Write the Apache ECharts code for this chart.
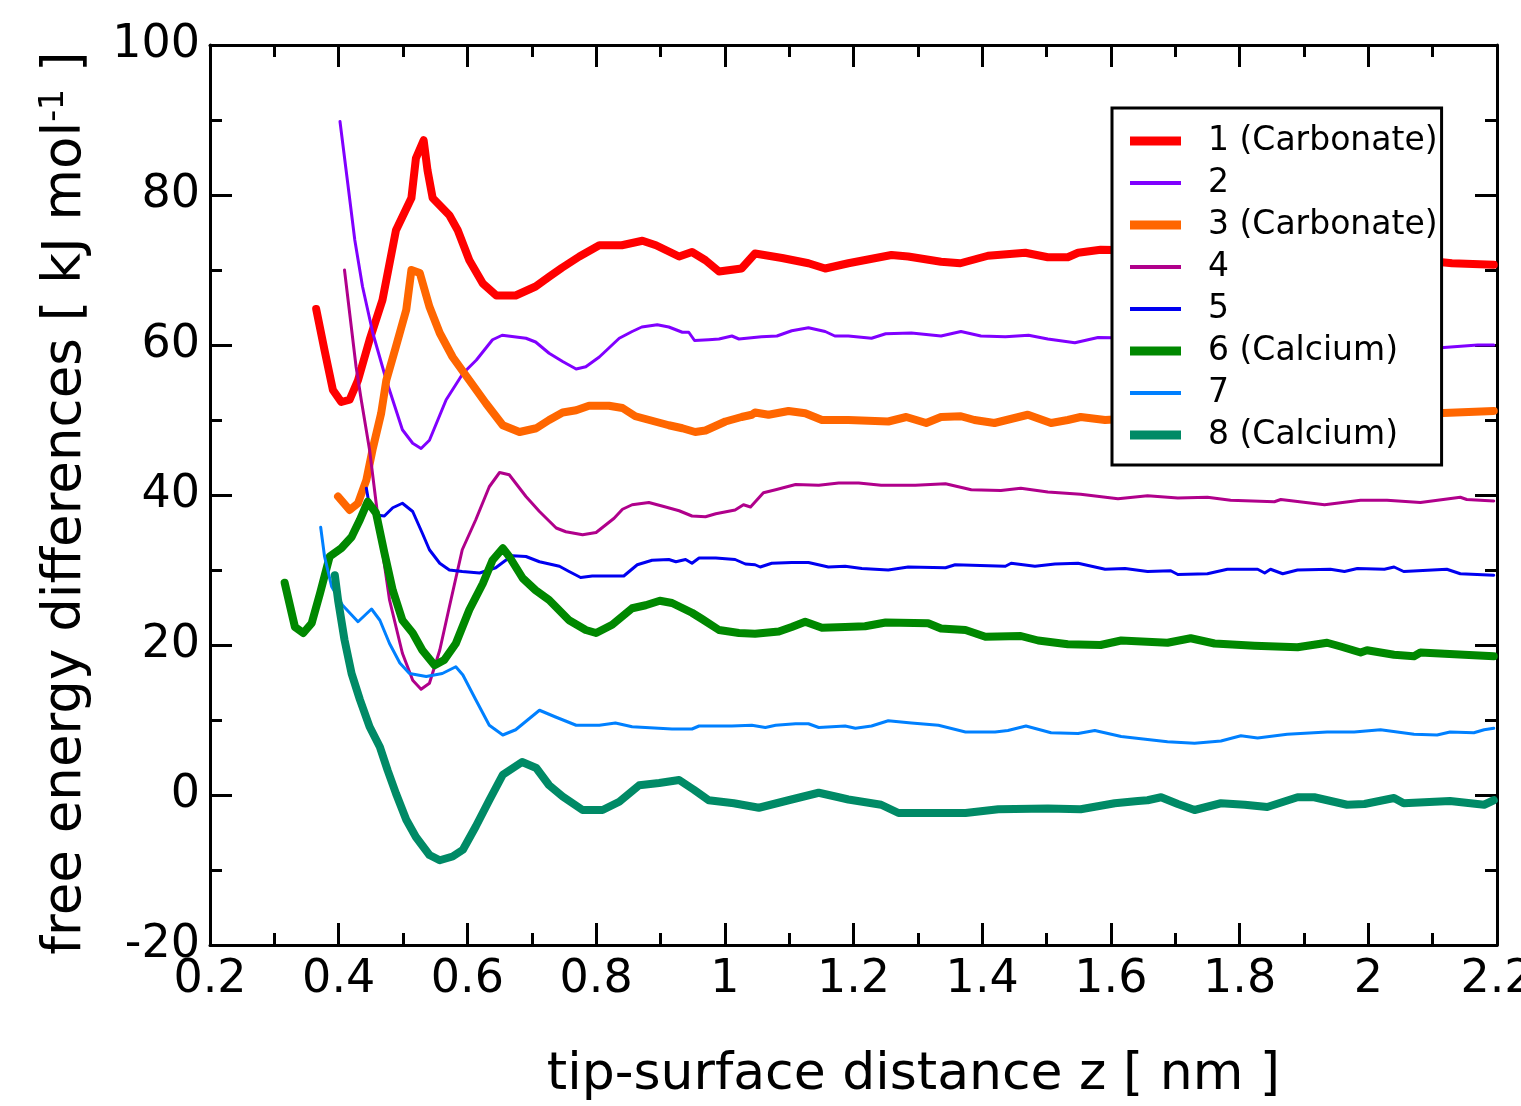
<!DOCTYPE html>
<html>
<head>
<meta charset="utf-8">
<script src="https://cdn.jsdelivr.net/npm/echarts@6/dist/echarts.min.js"></script>
<style>
  html, body { margin: 0; padding: 0; background: #fff; }
  #chart { width: 1521px; height: 1106px; }
</style>
</head>
<body>
<div id="chart"></div>
<script>
// free energy curves, [z (nm), dF (kJ/mol)]
const names = ['1 (Carbonate)', '2', '3 (Carbonate)', '4', '5', '6 (Calcium)', '7', '8 (Calcium)']
const colors = ['#ff0000', '#8000ff', '#ff6600', '#b0008b', '#0000f0', '#008800', '#0080ff', '#008a66']
const widths = [8, 3, 8, 3, 3, 8, 3, 8]

const s1 = [[0.365,64.8],[0.378,59.3],[0.391,54.0],[0.404,52.4],[0.417,52.7],[0.430,55.3],[0.448,60.7],[0.468,66.0],[0.489,75.3],[0.513,79.6],[0.520,84.9],[0.532,87.3],[0.538,83.3],[0.546,79.6],[0.572,77.3],[0.585,75.3],[0.603,71.3],[0.624,68.2],[0.645,66.6],[0.675,66.6],[0.706,67.8],[0.727,69.1],[0.747,70.3],[0.774,71.8],[0.805,73.3],[0.840,73.3],[0.872,73.9],[0.893,73.3],[0.929,71.8],[0.949,72.4],[0.970,71.3],[0.991,69.8],[1.026,70.2],[1.047,72.2],[1.089,71.6],[1.130,70.9],[1.156,70.2],[1.192,70.9],[1.259,72.0],[1.285,71.8],[1.336,71.1],[1.366,70.9],[1.409,71.9],[1.467,72.3],[1.502,71.7],[1.533,71.7],[1.549,72.3],[1.584,72.7],[1.650,72.6],[1.750,72.3],[1.850,72.0],[1.950,71.8],[2.050,71.5],[2.107,71.1],[2.130,70.9],[2.195,70.7]]

const s2 = [[0.402,89.8],[0.414,81.6],[0.425,74.0],[0.437,67.8],[0.453,61.6],[0.474,55.3],[0.499,48.7],[0.515,46.9],[0.528,46.2],[0.541,47.3],[0.567,52.7],[0.593,56.2],[0.614,58.0],[0.639,60.7],[0.654,61.3],[0.691,60.9],[0.706,60.4],[0.727,58.9],[0.748,57.8],[0.769,56.8],[0.784,57.1],[0.805,58.4],[0.836,60.9],[0.856,61.8],[0.871,62.4],[0.895,62.7],[0.913,62.4],[0.934,61.7],[0.944,61.7],[0.953,60.6],[0.975,60.7],[0.991,60.8],[1.011,61.2],[1.022,60.8],[1.057,61.1],[1.081,61.2],[1.104,61.9],[1.130,62.3],[1.156,61.8],[1.171,61.2],[1.192,61.2],[1.228,60.9],[1.250,61.5],[1.290,61.6],[1.336,61.2],[1.367,61.8],[1.398,61.2],[1.436,61.1],[1.472,61.3],[1.502,60.8],[1.544,60.3],[1.580,61.0],[1.650,60.9],[1.750,60.6],[1.850,60.5],[1.950,60.2],[2.050,60.0],[2.107,59.6],[2.170,60.0],[2.195,60.0]]

const s3 = [[0.399,39.8],[0.417,38.0],[0.430,38.9],[0.443,42.0],[0.453,46.2],[0.466,50.9],[0.474,55.3],[0.489,59.8],[0.505,64.7],[0.513,70.0],[0.526,69.6],[0.541,65.1],[0.557,61.6],[0.577,58.4],[0.603,55.3],[0.629,52.2],[0.655,49.3],[0.681,48.4],[0.707,48.9],[0.727,50.0],[0.748,51.0],[0.769,51.3],[0.789,51.9],[0.820,51.9],[0.841,51.6],[0.861,50.5],[0.887,49.9],[0.913,49.3],[0.934,48.9],[0.954,48.4],[0.970,48.6],[1.001,49.8],[1.026,50.4],[1.042,50.7],[1.047,51.0],[1.068,50.7],[1.099,51.2],[1.125,50.9],[1.151,50.0],[1.192,50.0],[1.254,49.8],[1.282,50.4],[1.313,49.6],[1.336,50.4],[1.367,50.5],[1.388,50.0],[1.419,49.6],[1.471,50.7],[1.507,49.6],[1.533,50.0],[1.553,50.4],[1.591,50.0],[1.650,50.3],[1.750,50.5],[1.850,50.6],[1.950,50.8],[2.050,50.9],[2.107,50.9],[2.195,51.2]]

const s4 = [[0.409,70.0],[0.427,57.1],[0.435,52.7],[0.448,46.0],[0.464,34.9],[0.479,26.0],[0.499,18.9],[0.515,15.3],[0.528,14.1],[0.541,14.9],[0.557,19.3],[0.572,25.1],[0.592,32.7],[0.613,36.7],[0.634,41.1],[0.650,43.0],[0.665,42.7],[0.691,39.8],[0.712,37.8],[0.738,35.6],[0.753,35.1],[0.779,34.7],[0.800,35.0],[0.828,36.9],[0.841,38.1],[0.856,38.7],[0.882,39.0],[0.908,38.4],[0.929,37.9],[0.949,37.2],[0.970,37.1],[0.986,37.5],[1.016,38.0],[1.029,38.7],[1.040,38.4],[1.060,40.3],[1.079,40.7],[1.110,41.4],[1.146,41.3],[1.177,41.6],[1.208,41.6],[1.243,41.3],[1.296,41.3],[1.343,41.5],[1.383,40.7],[1.429,40.6],[1.460,40.9],[1.502,40.4],[1.553,40.1],[1.611,39.5],[1.657,39.9],[1.704,39.6],[1.750,39.7],[1.786,39.3],[1.854,39.1],[1.864,39.4],[1.932,38.7],[1.988,39.3],[2.029,39.3],[2.081,39.0],[2.143,39.7],[2.153,39.4],[2.195,39.2]]

const s5 = [[0.443,40.9],[0.448,38.4],[0.461,37.3],[0.471,37.2],[0.484,38.3],[0.499,38.9],[0.515,37.8],[0.530,34.9],[0.541,32.7],[0.557,30.9],[0.572,30.0],[0.592,29.8],[0.619,29.6],[0.644,30.3],[0.658,31.2],[0.670,31.9],[0.691,31.8],[0.712,31.1],[0.743,30.5],[0.758,29.8],[0.776,29.0],[0.794,29.2],[0.843,29.2],[0.864,30.7],[0.887,31.3],[0.913,31.4],[0.924,31.1],[0.939,31.4],[0.949,30.9],[0.960,31.6],[0.986,31.6],[1.016,31.4],[1.032,30.8],[1.047,30.7],[1.055,30.4],[1.073,30.9],[1.104,31.0],[1.130,31.0],[1.161,30.4],[1.187,30.5],[1.213,30.2],[1.254,30.0],[1.285,30.4],[1.343,30.3],[1.358,30.7],[1.436,30.5],[1.445,30.9],[1.482,30.5],[1.513,30.8],[1.549,30.9],[1.591,30.1],[1.622,30.2],[1.657,29.8],[1.693,29.9],[1.704,29.4],[1.750,29.5],[1.781,30.1],[1.828,30.1],[1.839,29.6],[1.848,30.1],[1.867,29.5],[1.890,30.0],[1.941,30.1],[1.963,29.8],[1.983,30.2],[2.025,30.1],[2.040,30.4],[2.055,29.8],[2.122,30.1],[2.143,29.5],[2.195,29.3]]

const s6 = [[0.316,28.3],[0.332,22.4],[0.345,21.6],[0.358,22.9],[0.371,26.9],[0.386,31.8],[0.404,32.9],[0.420,34.4],[0.433,36.7],[0.445,39.1],[0.458,37.6],[0.471,32.3],[0.484,27.3],[0.499,23.3],[0.515,21.6],[0.530,19.3],[0.549,17.3],[0.564,18.0],[0.582,20.2],[0.603,24.7],[0.624,28.2],[0.639,31.3],[0.655,32.9],[0.665,31.8],[0.686,28.9],[0.706,27.3],[0.727,26.0],[0.758,23.3],[0.784,22.0],[0.800,21.6],[0.825,22.7],[0.856,24.9],[0.877,25.3],[0.899,25.9],[0.918,25.6],[0.949,24.3],[0.964,23.5],[0.991,22.0],[1.022,21.6],[1.047,21.5],[1.084,21.8],[1.104,22.4],[1.125,23.1],[1.151,22.3],[1.187,22.4],[1.218,22.5],[1.250,23.0],[1.316,22.9],[1.336,22.2],[1.374,22.0],[1.405,21.1],[1.460,21.2],[1.487,20.6],[1.533,20.1],[1.584,20.0],[1.616,20.6],[1.688,20.3],[1.724,20.9],[1.761,20.2],[1.823,19.9],[1.890,19.7],[1.936,20.3],[1.957,19.8],[1.988,19.0],[1.998,19.3],[2.040,18.7],[2.071,18.5],[2.081,19.0],[2.149,18.7],[2.195,18.5]]

const s7 = [[0.372,35.7],[0.378,31.8],[0.389,27.8],[0.406,25.3],[0.430,23.1],[0.451,24.8],[0.464,23.3],[0.479,20.2],[0.495,17.6],[0.510,16.2],[0.536,15.8],[0.561,16.2],[0.582,17.1],[0.593,16.0],[0.613,12.7],[0.634,9.3],[0.655,8.0],[0.675,8.7],[0.712,11.3],[0.737,10.4],[0.769,9.3],[0.805,9.3],[0.830,9.6],[0.856,9.1],[0.918,8.8],[0.949,8.8],[0.960,9.2],[1.011,9.2],[1.042,9.3],[1.063,9.0],[1.079,9.3],[1.110,9.5],[1.130,9.5],[1.146,9.0],[1.187,9.2],[1.203,8.9],[1.228,9.2],[1.254,9.9],[1.290,9.6],[1.332,9.3],[1.374,8.4],[1.420,8.4],[1.440,8.6],[1.468,9.2],[1.507,8.3],[1.549,8.2],[1.575,8.6],[1.616,7.8],[1.657,7.4],[1.688,7.1],[1.730,6.9],[1.771,7.2],[1.802,7.9],[1.828,7.6],[1.874,8.1],[1.936,8.4],[1.978,8.4],[2.019,8.7],[2.071,8.1],[2.107,8.0],[2.127,8.4],[2.164,8.3],[2.180,8.7],[2.195,8.9]]

const s8 = [[0.394,29.3],[0.399,26.0],[0.409,20.7],[0.420,16.2],[0.433,12.7],[0.448,9.1],[0.464,6.4],[0.476,3.3],[0.489,0.2],[0.505,-3.3],[0.520,-5.6],[0.541,-8.0],[0.557,-8.7],[0.577,-8.2],[0.593,-7.3],[0.613,-4.2],[0.634,-0.7],[0.655,2.7],[0.685,4.4],[0.707,3.6],[0.727,1.3],[0.748,-0.2],[0.779,-2.0],[0.810,-2.0],[0.836,-0.9],[0.867,1.3],[0.898,1.6],[0.929,2.0],[0.952,0.7],[0.975,-0.7],[1.014,-1.1],[1.053,-1.7],[1.099,-0.7],[1.146,0.3],[1.177,-0.3],[1.192,-0.6],[1.243,-1.3],[1.270,-2.4],[1.321,-2.4],[1.374,-2.4],[1.425,-1.9],[1.502,-1.8],[1.553,-1.9],[1.606,-1.1],[1.642,-0.8],[1.657,-0.7],[1.678,-0.3],[1.704,-1.2],[1.730,-2.0],[1.771,-1.1],[1.808,-1.3],[1.843,-1.6],[1.890,-0.3],[1.916,-0.3],[1.967,-1.3],[1.994,-1.2],[2.040,-0.4],[2.055,-1.1],[2.127,-0.8],[2.180,-1.3],[2.195,-0.7]]

const allData = [s1, s2, s3, s4, s5, s6, s7, s8]

const FONT = 'DejaVu Sans'

const axisCommon = {
    axisLine: { onZero: false, lineStyle: { color: '#000', width: 3 } },
    axisTick: { inside: true, length: 22, lineStyle: { color: '#000', width: 3 } },
    minorTick: { show: true, splitNumber: 2, length: 12, lineStyle: { color: '#000', width: 3 } },
    splitLine: { show: false },
    minorSplitLine: { show: false }
}

// legend swatch: a flat bar as thick as the series line
const swatch = w => 'path://M0,0 L51,0 L51,' + w + ' L0,' + w + ' Z'

const chart = echarts.init(document.getElementById('chart'))

const option = {
    backgroundColor: '#fff',
    animation: false,
    grid: { left: 210, right: 24, top: 45, bottom: 161, outerBoundsMode: 'none', containLabel: false },
    xAxis: [
        Object.assign({
            type: 'value', min: 0.2, max: 2.2, interval: 0.2, position: 'bottom',
            name: 'tip-surface distance z [ nm ]',
            nameLocation: 'middle', nameGap: 104,
            // title sits a bit right of the plot centre in the original
            nameTextStyle: { fontFamily: FONT, fontSize: 52, color: '#000', padding: [0, 0, 0, 120] },
            axisLabel: { fontFamily: FONT, fontSize: 46, color: '#000', margin: 12 }
        }, axisCommon),
        Object.assign({
            type: 'value', min: 0.2, max: 2.2, interval: 0.2, position: 'top',
            axisLabel: { show: false }
        }, axisCommon)
    ],
    yAxis: [
        Object.assign({
            type: 'value', min: -20, max: 100, interval: 20, position: 'left',
            name: 'free energy differences [ kJ mol{sup|-1} ]',
            nameLocation: 'middle', nameGap: 116, nameRotate: 90,
            nameTextStyle: {
                fontFamily: FONT, fontSize: 53, color: '#000', lineHeight: 56,
                padding: [0, 16, 0, 0],
                rich: { sup: { fontFamily: FONT, fontSize: 33, color: '#000', verticalAlign: 'top', lineHeight: 56 } }
            },
            axisLabel: { fontFamily: FONT, fontSize: 46, color: '#000', margin: 10 }
        }, axisCommon),
        Object.assign({
            type: 'value', min: -20, max: 100, interval: 20, position: 'right',
            axisLabel: { show: false }
        }, axisCommon)
    ],
    legend: {
        orient: 'vertical',
        left: 1112, top: 108,
        padding: [16, 4, 13, 18],
        backgroundColor: '#fff',
        borderColor: '#000',
        borderWidth: 3,
        borderRadius: 0,
        itemWidth: 51,
        itemHeight: 34,
        itemGap: 8,
        selectedMode: false,
        textStyle: { fontFamily: FONT, fontSize: 33, lineHeight: 34, color: '#000', padding: [0, 0, 0, 22] },
        data: names.map((n, i) => ({
            name: n,
            icon: swatch(widths[i] > 4 ? 9 : 4),
            itemStyle: { color: colors[i], borderWidth: 0 }
        }))
    },
    series: names.map((n, i) => ({
        name: n,
        type: 'line',
        data: allData[i],
        showSymbol: false,
        symbol: 'none',
        smooth: false,
        color: colors[i],
        lineStyle: { color: colors[i], width: widths[i], join: 'round', cap: 'round' }
    }))
}

chart.setOption(option)
</script>
</body>
</html>
